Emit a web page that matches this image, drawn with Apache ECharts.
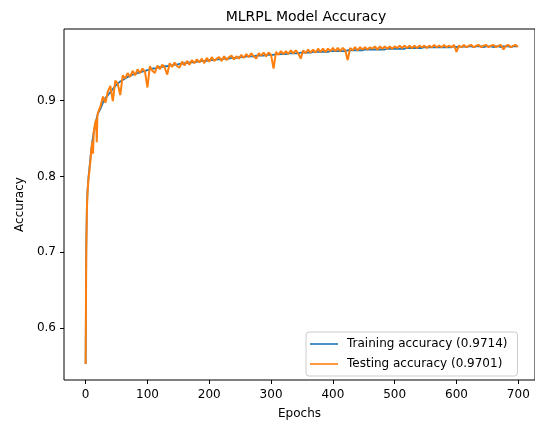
<!DOCTYPE html>
<html>
<head>
	<meta charset="utf-8">
	<title>MLRPL Model Accuracy</title>
	<style>
		html, body { margin: 0; padding: 0; background: #fff; }
		#chart { width: 535px; height: 425px; }
	</style>
</head>
<body>
<script type="text/javascript" src="https://cdn.jsdelivr.net/npm/echarts@6/dist/echarts.min.js"></script>
<div id="chart"></div>
<script>
// epochs: 0..20 one by one, then every 4 epochs, then the last one
var epochs = [];
for (var e = 0; e <= 20; e++) epochs.push(e);
for (var e = 24; e <= 696; e += 4) epochs.push(e);
epochs.push(699);

var trainAcc = [
	.553,.705,.758,.780,.792,.802,.810,.818,.826,.834,.841,.847,.852,.857,.862,.866,.870,.874,.877,.880,.883,
	.889,.897,.903,.907,.911,.915,.919,.922,.925,.927,
	.929,.931,.932,.934,.935,.936,.937,.938,.939,.940,
	.941,.942,.942,.943,.944,.944,.945,.945,.946,.946,
	.947,.947,.948,.948,.949,.949,.950,.950,.950,.951,
	.951,.952,.952,.952,.953,.953,.953,.954,.954,.954,
	.955,.955,.955,.956,.956,.956,.957,.957,.957,.958,
	.958,.958,.958,.959,.959,.959,.959,.960,.960,.960,
	.960,.961,.961,.961,.961,.961,.962,.962,.962,.962,
	.962,.963,.963,.963,.963,.963,.964,.964,.964,.964,
	.964,.964,.964,.965,.965,.965,.965,.965,.965,.965,
	.966,.966,.966,.966,.966,.966,.966,.967,.967,.967,
	.967,.967,.967,.967,.967,.967,.968,.968,.968,.968,
	.968,.968,.968,.968,.969,.969,.969,.969,.969,.969,
	.969,.970,.970,.970,.970,.970,.970,.970,.970,.970,
	.970,.970,.970,.971,.970,.971,.970,.971,.970,.971,
	.971,.970,.971,.971,.971,.970,.971,.971,.971,.970,
	.971,.971,.970,.971,.971,.971,.970,.971,.971,
	.9714
];

var testAcc = [
	.553,.700,.755,.778,.790,.800,.806,.815,.822,.834,.840,.846,.830,.858,.862,.868,.872,.875,.845,.880,.884,
	.892,.905,.897,.912,.919,.899,.926,.922,.907,.933,
	.929,.936,.931,.939,.933,.941,.936,.942,.938,.917,
	.945,.939,.936,.946,.941,.947,.943,.934,.949,.944,
	.950,.945,.943,.951,.946,.952,.947,.953,.949,.954,
	.950,.955,.949,.956,.951,.957,.952,.955,.957,.952,
	.958,.953,.957,.959,.954,.958,.955,.960,.956,.961,
	.957,.962,.958,.955,.962,.959,.963,.958,.963,.960,
	.942,.964,.960,.965,.961,.965,.961,.966,.962,.966,
	.962,.955,.966,.962,.967,.963,.967,.963,.968,.964,
	.968,.964,.968,.965,.969,.965,.969,.965,.969,.966,
	.953,.969,.966,.970,.966,.970,.967,.970,.967,.970,
	.968,.971,.967,.971,.968,.971,.968,.971,.968,.971,
	.969,.972,.969,.972,.969,.972,.969,.972,.969,.972,
	.970,.972,.969,.972,.970,.973,.970,.972,.970,.973,
	.970,.972,.970,.973,.964,.972,.970,.973,.970,.972,
	.973,.970,.972,.973,.970,.972,.973,.970,.972,.973,
	.970,.972,.973,.967,.972,.973,.970,.972,.973,
	.9701
];

var xTicks = [0, 100, 200, 300, 400, 500, 600, 700];
var yTicks = [0.6, 0.7, 0.8, 0.9];

var seriesNames = ['Training accuracy (0.9714)', 'Testing accuracy (0.9701)'];

var FONT = 'DejaVu Sans';

function pairs(vals) {
	var out = [];
	for (var i = 0; i < epochs.length; i++) out.push([epochs[i], vals[i]]);
	return out;
}

var chart = echarts.init(document.getElementById('chart'));
var option = {
	animation: false,
	backgroundColor: '#fff',
	title: {
		text: 'MLRPL Model Accuracy',
		left: 301,
		top: 5,
		textAlign: 'center',
		textStyle: { fontFamily: FONT, fontSize: 14, fontWeight: 'normal', color: '#000' }
	},
	grid: {
		left: 64, top: 29, right: 0, bottom: 43,
		show: true, borderColor: '#000', borderWidth: 1, backgroundColor: 'transparent'
	},
	legend: {
		orient: 'vertical',
		left: 306, top: 332,
		padding: [6, 10, 6, 4],
		itemGap: 8,
		itemWidth: 28, itemHeight: 1.6,
		icon: 'rect',
		backgroundColor: '#fff',
		borderColor: '#cccccc', borderWidth: 1, borderRadius: 3,
		textStyle: { fontFamily: FONT, fontSize: 12, color: '#000', padding: [0, 0, 0, 4], lineHeight: 12 },
		data: seriesNames
	},
	xAxis: {
		type: 'value',
		min: -35, max: 727,
		name: 'Epochs', nameLocation: 'middle', nameGap: 28,
		nameTextStyle: { fontFamily: FONT, fontSize: 12, color: '#000' },
		axisLine: { show: false, onZero: false },
		splitLine: { show: false },
		axisTick: { show: true, length: 4, lineStyle: { color: '#000' }, customValues: xTicks },
		axisLabel: { fontFamily: FONT, fontSize: 12, color: '#000', margin: 9, customValues: xTicks }
	},
	yAxis: {
		type: 'value',
		min: 0.532, max: 0.994,
		name: 'Accuracy', nameLocation: 'middle', nameGap: 38,
		nameTextStyle: { fontFamily: FONT, fontSize: 12, color: '#000' },
		axisLine: { show: false, onZero: false },
		splitLine: { show: false },
		axisTick: { show: true, length: 4, lineStyle: { color: '#000' }, customValues: yTicks },
		axisLabel: {
			fontFamily: FONT, fontSize: 12, color: '#000', margin: 8, customValues: yTicks,
			formatter: function (v) { return v.toFixed(1); }
		}
	},
	series: [
		{
			name: seriesNames[0], type: 'line', symbol: 'none',
			data: pairs(trainAcc),
			lineStyle: { color: '#1f77b4', width: 1.8 },
			itemStyle: { color: '#1f77b4' }
		},
		{
			name: seriesNames[1], type: 'line', symbol: 'none',
			data: pairs(testAcc),
			lineStyle: { color: '#ff7f0e', width: 2 },
			itemStyle: { color: '#ff7f0e' }
		}
	]
};
chart.setOption(option);
</script>
</body>
</html>
